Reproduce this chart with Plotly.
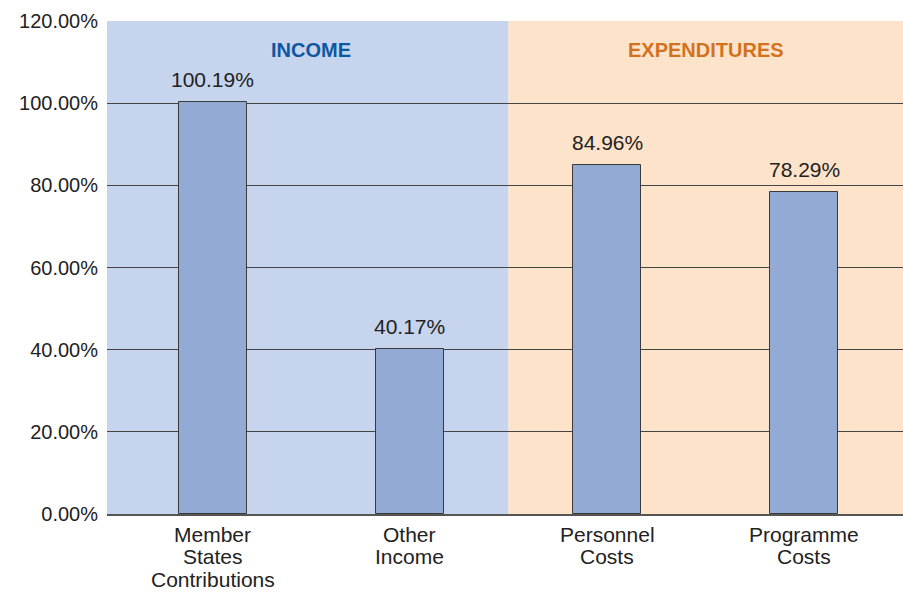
import plotly.graph_objects as go

categories = ["Member<br>States<br>Contributions", "Other<br>Income", "Personnel<br>Costs", "Programme<br>Costs"]
values = [100.19, 40.17, 84.96, 78.29]
value_labels = ["100.19%", "40.17%", "84.96%", "78.29%"]
tick_values = [0, 20, 40, 60, 80, 100, 120]
tick_labels = ["0.00%", "20.00%", "40.00%", "60.00%", "80.00%", "100.00%", "120.00%"]
section_titles = ["INCOME", "EXPENDITURES"]

INCOME_BG = "#c6d4ed"
EXP_BG = "#fde3c9"
BAR = "#93aad4"
FONT = "Liberation Sans, Arial, sans-serif"
X_LEFT = -0.536
X_RIGHT = 3.5

xs = list(range(len(categories)))

fig = go.Figure()
fig.add_trace(go.Bar(
    x=xs, y=values, width=0.345,
    marker=dict(color=BAR, line=dict(color="#3a3a3a", width=1)),
    hoverinfo="skip",
))

# Section backgrounds
fig.add_shape(type="rect", xref="x", yref="y", x0=X_LEFT, x1=1.5, y0=0, y1=120,
              fillcolor=INCOME_BG, line_width=0, layer="below")
fig.add_shape(type="rect", xref="x", yref="y", x0=1.5, x1=X_RIGHT, y0=0, y1=120,
              fillcolor=EXP_BG, line_width=0, layer="below")

# Section titles
fig.add_annotation(x=0.5, y=113, xref="x", yref="y", text="<b>" + section_titles[0] + "</b>",
                   showarrow=False, font=dict(family=FONT, size=20, color="#0d58a0"))
fig.add_annotation(x=2.5, y=113, xref="x", yref="y", text="<b>" + section_titles[1] + "</b>",
                   showarrow=False, font=dict(family=FONT, size=20, color="#d2721f"))

# Value labels
for i, (v, lab) in enumerate(zip(values, value_labels)):
    bg = INCOME_BG if i < 2 else EXP_BG
    fig.add_annotation(x=xs[i], y=v, xref="x", yref="y", text=lab, showarrow=False,
                       yanchor="bottom", yshift=7, bgcolor=bg, borderpad=3,
                       font=dict(family=FONT, size=21, color="#222222"))

# Category labels (tight line spacing, one annotation per line)
for i, cat in enumerate(categories):
    for j, line in enumerate(cat.split("<br>")):
        fig.add_annotation(x=xs[i], y=0, xref="x", yref="y", text=line, showarrow=False,
                           yanchor="middle", yshift=-(20 + 22.5 * j), borderpad=0,
                           font=dict(family=FONT, size=21, color="#222222"))

fig.update_layout(
    width=903, height=592,
    margin=dict(l=107, r=0, t=21, b=78, autoexpand=False),
    paper_bgcolor="white", plot_bgcolor="white",
    showlegend=False,
    font=dict(family=FONT, size=20, color="#222222"),
    bargap=0,
)
fig.update_xaxes(
    tickmode="array", tickvals=xs, ticktext=["" for _ in categories],
    range=[X_LEFT, X_RIGHT], showgrid=False, zeroline=False,
    showline=True, linecolor="#555555", linewidth=1.5,
    ticks="", automargin=False,
)
fig.update_yaxes(
    tickmode="array", tickvals=tick_values, ticktext=tick_labels,
    range=[0, 120], showgrid=True, gridcolor="#444444", gridwidth=1,
    zeroline=False, showline=False, ticks="", ticklabelstandoff=8, automargin=False,
    tickfont=dict(family=FONT, size=20, color="#222222"),
)

fig.write_html("out.html", config={"displayModeBar": False},
               post_script="document.body.style.margin='0';")
